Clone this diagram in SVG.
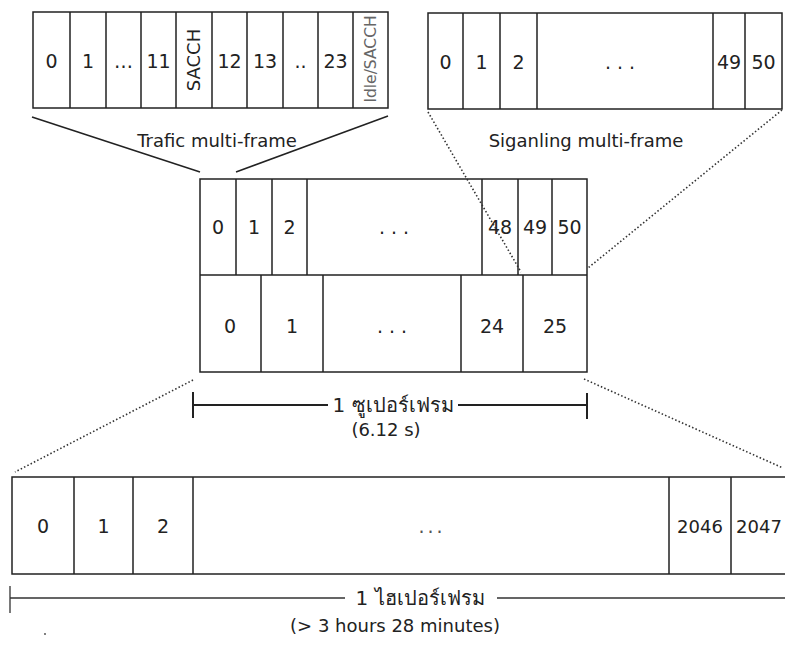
<svg xmlns="http://www.w3.org/2000/svg" width="785" height="645" viewBox="0 0 785 645">
<style>
.box{fill:#fff;stroke:#222;stroke-width:1.5}
.div{stroke:#222;stroke-width:1.5;fill:none}
.t{font-family:"DejaVu Sans","Noto Sans",sans-serif;font-size:19px;fill:#222;text-anchor:middle}
.lbl{font-family:"DejaVu Sans","Noto Sans",sans-serif;font-size:18px;fill:#222;text-anchor:middle}
.th{font-family:"DejaVu Sans","Noto Sans",sans-serif;font-size:20px;fill:#222;text-anchor:middle}
.solid{stroke:#222;stroke-width:1.5;fill:none}
.dot{stroke:#333;stroke-width:1.6;fill:none;stroke-dasharray:1.5 2.2}
.br{stroke:#222;stroke-width:2;fill:none}
.hb{stroke:#333;stroke-width:1.3;fill:none}
</style>
<rect width="785" height="645" fill="#fff"/>

<g id="traffic-multiframe">
<rect class="box" x="33" y="12" width="355" height="96"/>
<path class="div" d="M70 12V108M106 12V108M141 12V108M176 12V108M212 12V108M247 12V108M283 12V108M318 12V108M353 12V108"/>
<text class="t" x="51.5" y="68">0</text>
<text class="t" x="88" y="68">1</text>
<text class="t" x="123.5" y="68">…</text>
<text class="t" x="158.5" y="68">11</text>
<text class="t" transform="translate(200,60) rotate(-90)" style="font-size:18px">SACCH</text>
<text class="t" x="229.5" y="68">12</text>
<text class="t" x="265" y="68">13</text>
<text class="t" x="300.5" y="68">..</text>
<text class="t" x="335.5" y="68">23</text>
<text class="t" transform="translate(376,59) rotate(-90)" style="fill:#666;font-size:15.5px">Idle/SACCH</text>
<text class="lbl" x="217" y="147">Trafic multi-frame</text>
</g>

<g id="signaling-multiframe">
<rect class="box" x="428" y="13" width="354" height="96"/>
<path class="div" d="M463 13V109M500 13V109M537 13V109M713 13V109M745 13V109"/>
<text class="t" x="445.5" y="69">0</text>
<text class="t" x="481.5" y="69">1</text>
<text class="t" x="518.5" y="69">2</text>
<text class="t" x="623" y="69" style="letter-spacing:6px">...</text>
<text class="t" x="729" y="69">49</text>
<text class="t" x="763.5" y="69">50</text>
<text class="lbl" x="586" y="147">Siganling multi-frame</text>
</g>

<g id="superframe">
<rect class="box" x="200" y="179" width="387" height="193"/>
<path class="div" d="M200 275H587M236 179V275M272 179V275M307 179V275M482 179V275M518 179V275M552 179V275M261 275V372M323 275V372M461 275V372M523 275V372"/>
<text class="t" x="218" y="234">0</text>
<text class="t" x="254" y="234">1</text>
<text class="t" x="289.5" y="234">2</text>
<text class="t" x="397" y="234" style="letter-spacing:6px">...</text>
<text class="t" x="500" y="234">48</text>
<text class="t" x="535" y="234">49</text>
<text class="t" x="569.5" y="234">50</text>
<text class="t" x="230" y="333">0</text>
<text class="t" x="292" y="333">1</text>
<text class="t" x="395" y="333" style="letter-spacing:6px">...</text>
<text class="t" x="492" y="333">24</text>
<text class="t" x="555" y="333">25</text>
</g>

<g id="hyperframe">
<path class="div" d="M785 477H12V574H785M74 477V574M133 477V574M193 477V574M669 477V574M731 477V574"/>
<text class="t" x="43" y="533">0</text>
<text class="t" x="103.5" y="533">1</text>
<text class="t" x="163" y="533">2</text>
<text class="t" x="432" y="533" style="letter-spacing:3px;fill:#555">...</text>
<text class="t" x="700" y="533" style="font-size:18px">2046</text>
<text class="t" x="759" y="533" style="font-size:18px">2047</text>
</g>

<g id="superframe-span">
<path class="br" d="M193 392V418M587 393V419M193 405H328M458 405H587"/>
<text class="th" x="393" y="412">1 ซูเปอร์เฟรม</text>
<text class="lbl" x="386" y="436">(6.12 s)</text>
</g>

<g id="hyperframe-span">
<path class="hb" d="M10 586V613M10 598H345M497 598H785"/>
<text class="th" x="420" y="605">1 ไฮเปอร์เฟรม</text>
<text class="lbl" x="395" y="632">(&gt; 3 hours 28 minutes)</text>
<circle cx="45" cy="634" r="0.9" fill="#444"/>
</g>

<g id="connectors">
<path class="solid" d="M32 117L200 172"/>
<path class="solid" d="M388 116L236 172"/>
<path class="dot" d="M428 112L521 272"/>
<path class="dot" d="M782 110L588 268"/>
<path class="dot" d="M193 380L15 472"/>
<path class="dot" d="M584 379L783 468"/>
</g>
</svg>
